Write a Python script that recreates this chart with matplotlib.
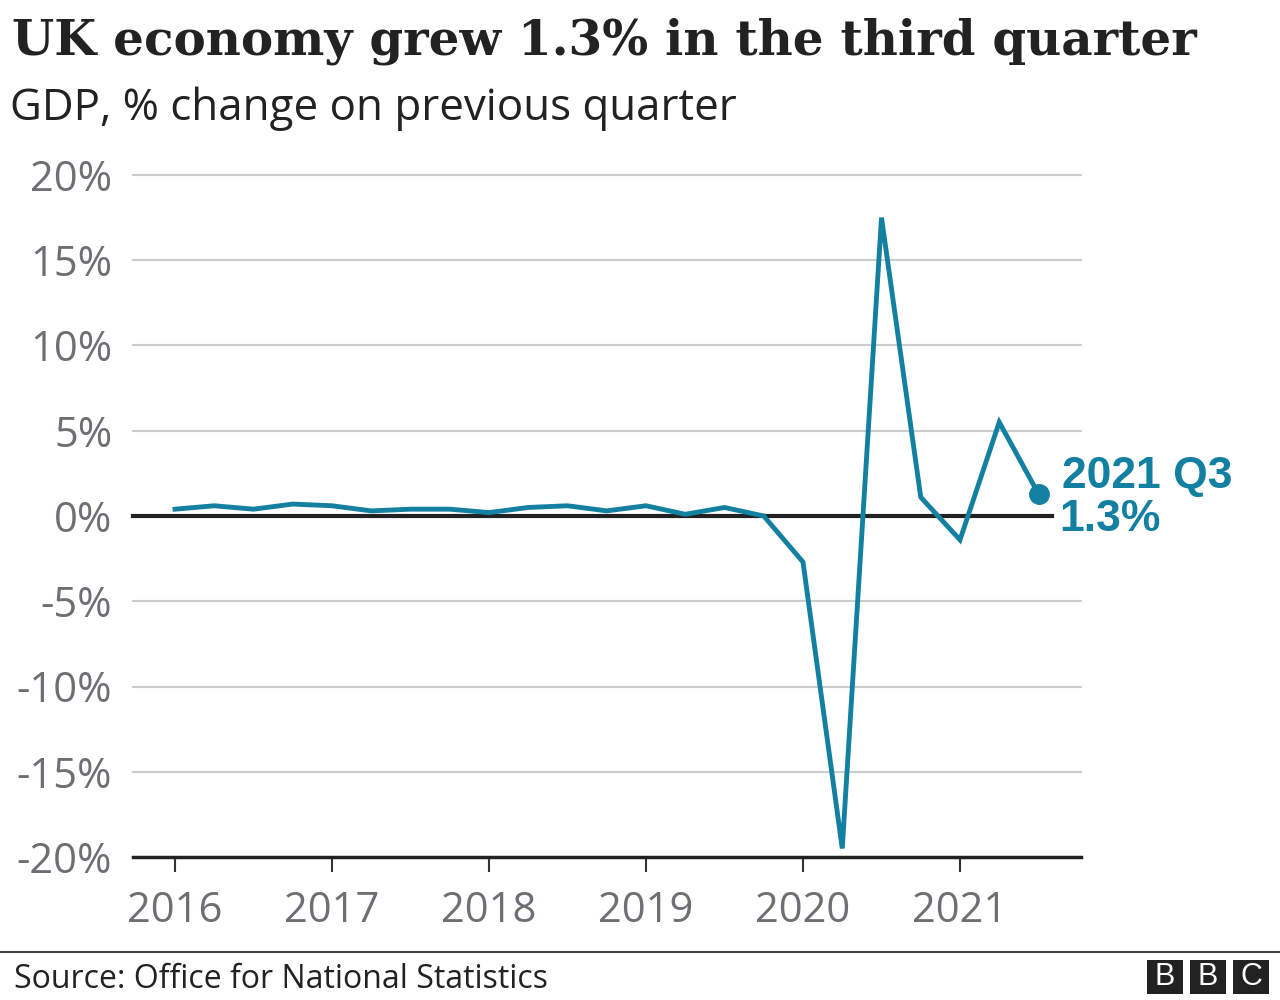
import matplotlib
matplotlib.use('Agg')
from matplotlib import pyplot as plt
from matplotlib.patches import Rectangle
from matplotlib.lines import Line2D

# quarterly GDP growth, 2016 Q1 .. 2021 Q3
quarters = [2016 + i * 0.25 for i in range(23)]
gdp_change = [0.4, 0.6, 0.4, 0.7, 0.6, 0.3, 0.4, 0.4,
              0.2, 0.5, 0.6, 0.3, 0.6, 0.1, 0.5, 0.0,
              -2.7, -19.5, 17.5, 1.1, -1.4, 5.5, 1.3]
years = [2016, 2017, 2018, 2019, 2020, 2021]
y_ticks = [20, 15, 10, 5, 0, -5, -10, -15, -20]
y_labels = ['20%', '15%', '10%', '5%', '0%', '-5%', '-10%', '-15%', '-20%']

teal = '#1380A1'
grey_text = '#6e6e73'
sans = ['Open Sans', 'DejaVu Sans']

fig = plt.figure(figsize=(12.8, 10), dpi=100)
ax = fig.add_axes([133 / 1280, 143 / 1000, 948 / 1280, 682 / 1000])

ax.set_xlim(2016 - 42 / 157, 2016 + 906 / 157)
ax.set_ylim(-20, 20)

for v in y_ticks:
    if v in (0, -20):
        continue
    ax.axhline(v, color='#cccccc', lw=1.5, zorder=1, clip_on=False)

# zero line stops short of the label
ax.add_line(Line2D([2016 - 42 / 157, 2016 + 877 / 157], [0, 0], color='#222222',
                   lw=3, zorder=2, clip_on=False))
ax.axhline(-20, color='#222222', lw=2.5, zorder=2, clip_on=False)

ax.plot(quarters, gdp_change, color=teal, lw=3.5, zorder=3,
        solid_joinstyle='miter', clip_on=False)
ax.plot(quarters[-1], gdp_change[-1], 'o', color=teal, markersize=14, zorder=4,
        clip_on=False)

ax.text(quarters[-1] + 0.15, gdp_change[-1] + 1.0, '2021 Q3', color=teal,
        fontsize=32, fontweight='bold', family='Liberation Sans',
        ha='left', va='center')
ax.text(quarters[-1] + 0.13, gdp_change[-1] - 1.5, '1.3%', color=teal,
        fontsize=32, fontweight='bold', family='Liberation Sans',
        ha='left', va='center')

for s in ax.spines.values():
    s.set_visible(False)

ax.set_yticks(y_ticks)
ax.set_yticklabels(y_labels, family=sans, fontsize=30, color=grey_text)
ax.tick_params(axis='y', length=0, pad=15)
ax.set_xticks(years)
ax.set_xticklabels([str(y) for y in years], family=sans, fontsize=30,
                   color=grey_text)
ax.tick_params(axis='x', length=11, width=1.5, color='#333333', pad=13)

fig.text(12 / 1280, 1 - 41 / 1000, 'UK economy grew 1.3% in the third quarter',
         family=['DejaVu Serif'], fontweight='bold', fontsize=34.8,
         color='#222222', ha='left', va='center')
fig.text(10 / 1280, 1 - 109 / 1000, 'GDP, % change on previous quarter',
         family=sans, fontsize=31.6, color='#222222', ha='left', va='center')

fig.add_artist(Line2D([0, 1], [1 - 952 / 1000, 1 - 952 / 1000],
                      color='#444444', lw=1.5))
fig.text(14 / 1280, 1 - 979 / 1000, 'Source: Office for National Statistics',
         family=sans, fontsize=23, color='#222222', ha='left', va='center')

for i, letter in enumerate('BBC'):
    x0 = (1147 + i * 43) / 1280
    fig.add_artist(Rectangle((x0, 1 - 994 / 1000), 36 / 1280, 34 / 1000,
                             facecolor='#222222', edgecolor='none'))
    fig.text(x0 + 18 / 1280, 1 - 977 / 1000, letter, color='white',
             family='Liberation Sans', fontsize=22,
             ha='center', va='center')

fig.savefig('out.png', dpi=100)
